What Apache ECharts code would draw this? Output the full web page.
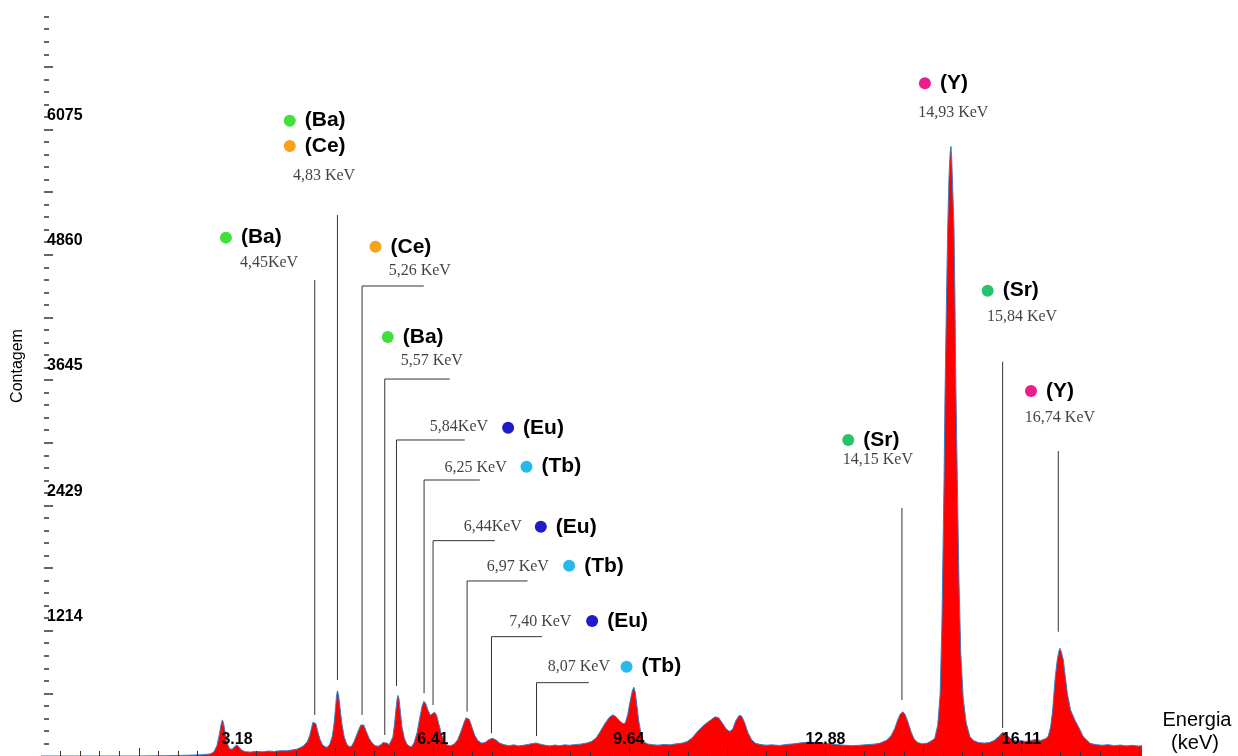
<!DOCTYPE html>
<html>
<head>
<meta charset="utf-8">
<script src="https://cdn.jsdelivr.net/npm/echarts@6/dist/echarts.min.js"></script>
<style>
html,body{margin:0;padding:0;background:#fff;}
#chart{width:1238px;height:756px;}
</style>
</head>
<body>
<div id="chart"></div>
<script>
// ---- Spectrum (energy in keV, counts) ----
const energyKeV = [
-0.05,0.5,1.0,1.5,2.0,2.4,2.6,2.74,2.80,2.85,2.89,2.92,2.94,2.96,2.99,3.02,3.06,3.10,3.14,3.18,3.21,3.26,3.32,3.40,
3.50,3.60,3.70,3.80,3.90,4.00,4.08,4.16,4.22,4.28,4.34,4.38,4.41,4.43,4.455,4.48,4.51,4.55,4.59,4.63,
4.67,4.71,4.75,4.78,4.805,4.82,4.836,4.855,4.88,4.91,4.95,4.99,5.03,5.07,
5.11,5.15,5.19,5.22,5.24,5.27,5.31,5.36,5.41,5.46,5.51,5.55,5.59,5.616,5.65,5.69,
5.72,5.75,5.775,5.80,5.82,5.835,5.85,5.875,5.90,5.94,5.98,6.02,6.06,
6.10,6.15,6.19,6.23,6.26,6.29,6.33,6.37,6.40,6.435,6.47,6.51,6.55,6.60,6.65,6.70,
6.76,6.82,6.87,6.92,6.955,6.98,7.01,7.05,7.10,7.15,7.21,7.27,7.33,7.39,7.45,7.51,7.58,7.66,
7.74,7.82,7.90,7.98,8.05,8.11,8.18,8.26,8.34,8.42,8.50,8.58,8.66,8.74,
8.84,8.94,9.02,9.10,9.17,9.24,9.31,9.37,9.42,9.48,9.54,9.58,9.62,9.66,9.695,9.72,9.745,9.77,9.80,9.84,9.88,9.94,
10.02,10.12,10.22,10.32,10.42,10.52,10.60,10.68,10.76,10.84,10.92,10.99,11.06,11.12,11.18,11.24,11.30,11.35,
11.40,11.46,11.50,11.55,11.60,11.66,11.72,11.80,11.90,
12.0,12.12,12.24,12.36,12.48,12.60,12.72,12.84,12.96,13.08,13.20,13.32,13.44,13.56,13.68,13.78,
13.88,13.96,14.02,14.07,14.11,14.155,14.19,14.24,14.29,14.34,14.40,14.48,14.56,14.62,
14.68,14.73,14.77,14.80,14.82,14.835,14.85,14.875,14.895,14.915,14.935,14.948,14.96,14.98,14.998,15.013,15.031,15.053,
15.08,15.11,15.15,15.20,15.26,15.32,15.40,15.50,15.58,15.66,15.74,15.80,15.86,15.94,16.02,16.10,16.18,16.26,16.34,
16.42,16.50,16.55,16.59,16.625,16.646,16.668,16.70,16.725,16.745,16.77,16.80,16.833,16.866,16.92,16.99,17.05,17.13,
17.24,17.34,17.44,17.54,17.64,17.74,17.84,17.94,18.04,18.097
];
const counts = [
0,0,0,0,3,8,12,20,40,100,210,310,350,315,210,120,70,65,90,108,90,55,42,38,
45,40,48,44,52,50,58,65,80,100,140,200,275,325,342,315,240,160,110,90,
85,115,190,310,470,580,633,590,460,310,180,115,90,95,
140,200,260,300,315,300,240,170,125,100,95,110,130,140,125,110,
120,185,300,450,555,587,555,420,280,170,115,95,90,
130,230,360,480,531,510,440,395,412,425,395,305,210,140,105,100,
115,160,235,320,370,378,355,285,200,150,125,130,158,172,155,125,110,100,
108,98,104,112,122,126,115,104,98,106,100,108,104,110,
115,125,140,175,240,310,370,398,385,345,315,318,400,530,630,666,620,500,350,210,140,118,
110,105,112,108,118,125,140,175,230,280,320,350,380,370,320,265,238,260,
340,395,385,320,230,160,125,112,105,
108,102,112,118,128,135,130,124,118,110,104,100,104,110,115,125,
150,195,265,350,405,428,405,330,235,165,130,118,125,145,
170,300,600,1300,2100,2700,3500,4450,5130,5600,5850,5910,5800,5450,5130,4490,3520,2680,
1700,1000,560,320,190,150,130,125,130,150,190,230,205,165,145,150,140,150,160,
150,165,190,280,446,608,769,931,1010,1044,1005,931,769,608,446,349,284,187,
123,110,104,110,100,106,98,104,96,100
];

// ---- Axis tick labels ----
const xTickLabels = [3.18, 6.41, 9.64, 12.88, 16.11];
const yTickLabels = [1214, 2429, 3645, 4860, 6075];

// ---- Peak leader lines (keV / counts) ----
const lineKeV          = [4.462, 4.836, 5.242, 5.616, 5.809, 6.264, 6.412, 6.973, 7.375, 8.117, 14.140, 15.800, 16.717];
const lineTopCounts    = [4615, 5245, 4557, 3655, 3064, 2676, 2088, 1697, 1157, 711, 2405, 3823, 2957];
const lineBottomCounts = [398, 737, 398, 204, 679, 608, 494, 430, 220, 194, 543, 271, 1205];
const lineHookKeV      = [null, null, 6.259, 6.687, 6.935, 7.182, 7.429, 7.969, 8.209, 8.979, null, null, null];

// ---- Element markers ----
const elementNames  = ['Ba', 'Ba', 'Ce', 'Ce', 'Ba', 'Eu', 'Tb', 'Eu', 'Tb', 'Eu', 'Tb', 'Sr', 'Y', 'Sr', 'Y'];
const elementKeV    = [2.998, 4.050, 4.050, 5.463, 5.665, 7.649, 7.952, 8.188, 8.655, 9.034, 9.601, 13.255, 14.519, 15.553, 16.267];
const elementCounts = [5026, 6160, 5915, 4938, 4063, 3183, 2805, 2223, 1845, 1309, 866, 3064, 6523, 4512, 3539];
const elementColors = {Ba: '#3fe03a', Ce: '#f7a21b', Eu: '#1c1cc8', Tb: '#27b9ec', Sr: '#25c46a', Y: '#ec1c8c'};

// ---- Energy labels ----
const energyLabels      = ['4,45KeV', '4,83 KeV', '5,26 KeV', '5,57 KeV', '5,84KeV', '6,25 KeV', '6,44KeV', '6,97 KeV', '7,40 KeV', '8,07 KeV', '14,15 KeV', '14,93 KeV', '15,84 KeV', '16,74 KeV'];
const energyLabelKeV    = [3.708, 4.615, 6.193, 6.391, 6.839, 7.113, 7.397, 7.809, 8.180, 8.815, 13.744, 14.986, 16.119, 16.745];
const energyLabelCounts = [4785, 5621, 4704, 3830, 3190, 2790, 2220, 1839, 1302, 866, 2870, 6239, 4257, 3277];

// ---- derived tick positions ----
const xStep = (xTickLabels[xTickLabels.length - 1] - xTickLabels[0]) / (xTickLabels.length - 1);
const xMinorTicks = [], xMajorTicks = [];
for (let k = -9; k <= 58; k++) {
  const v = +(xTickLabels[0] + k * xStep / 10).toFixed(4);
  if (v > 0 && v < 18.09) { xMinorTicks.push(v); if (k % 5 === 0) xMajorTicks.push(v); }
}
const yStep = 1215;
const yMinorTicks = [], yMajorTicks = [];
for (let k = 1; k <= 59; k++) { yMinorTicks.push(k * yStep / 10); if (k % 5 === 0) yMajorTicks.push(k * yStep / 10); }

const X_MIN = -0.05, X_MAX = 18.097, Y_MIN = 0, Y_MAX = 7330;
const sans = "Arial, 'Liberation Sans', sans-serif";
const serif = "'Times New Roman', 'Liberation Serif', serif";

const chart = echarts.init(document.getElementById('chart'), null, {renderer: 'canvas'});
chart.setOption({
  animation: false,
  backgroundColor: '#ffffff',
  grid: {left: 41, right: 96, top: 0, bottom: 0, containLabel: false},
  xAxis: [{
    type: 'value', min: X_MIN, max: X_MAX, z: 10,
    axisLine: {show: false}, splitLine: {show: false},
    axisTick: {show: true, inside: true, length: 5, customValues: xMinorTicks, lineStyle: {color: '#333', width: 1}},
    axisLabel: {inside: true, margin: 8, customValues: xTickLabels, formatter: v => v.toFixed(2),
      fontFamily: sans, fontWeight: 'bold', fontSize: 16, color: '#000'}
  }, {
    type: 'value', min: X_MIN, max: X_MAX, position: 'bottom', z: 10,
    axisLine: {show: false}, splitLine: {show: false}, axisLabel: {show: false},
    axisTick: {show: true, inside: true, length: 8, customValues: xMajorTicks, lineStyle: {color: '#333', width: 1}}
  }],
  yAxis: [{
    type: 'value', min: Y_MIN, max: Y_MAX, z: 10,
    axisLine: {show: false}, splitLine: {show: false},
    axisTick: {show: true, inside: true, length: 5, customValues: yMinorTicks, lineStyle: {color: '#333', width: 1.5}},
    axisLabel: {inside: true, margin: 6, customValues: yTickLabels, formatter: v => String(Math.round(v)),
      verticalAlign: 'bottom', padding: [0, 0, 6, 0],
      fontFamily: sans, fontWeight: 'bold', fontSize: 16, color: '#000'}
  }, {
    type: 'value', min: Y_MIN, max: Y_MAX, position: 'left', z: 10,
    axisLine: {show: false}, splitLine: {show: false}, axisLabel: {show: false},
    axisTick: {show: true, inside: true, length: 9, customValues: yMajorTicks, lineStyle: {color: '#333', width: 1.5}}
  }],
  series: [{
    type: 'line', xAxisIndex: 0, yAxisIndex: 0, z: 2,
    data: energyKeV.map((e, i) => [e, counts[i]]),
    symbol: 'none', showSymbol: false, sampling: null, smooth: false,
    lineStyle: {color: '#3b7dc4', width: 1},
    areaStyle: {color: '#ff0000', opacity: 1}
  }, {
    type: 'lines', coordinateSystem: 'cartesian2d', xAxisIndex: 0, yAxisIndex: 0, polyline: true, z: 3,
    data: lineKeV.map((e, i) => ({
      coords: lineHookKeV[i] === null
        ? [[e, lineBottomCounts[i]], [e, lineTopCounts[i]]]
        : [[e, lineBottomCounts[i]], [e, lineTopCounts[i]], [lineHookKeV[i], lineTopCounts[i]]]
    })),
    lineStyle: {color: '#333333', width: 1, opacity: 1}
  }, {
    type: 'scatter', xAxisIndex: 0, yAxisIndex: 0, z: 4, symbol: 'circle', symbolSize: 12,
    data: elementNames.map((n, i) => ({value: [elementKeV[i], elementCounts[i]], name: n, itemStyle: {color: elementColors[n], opacity: 1}})),
    label: {show: true, position: 'right', distance: 9, formatter: p => '(' + p.name + ')',
      fontFamily: sans, fontWeight: 'bold', fontSize: 21, color: '#000'}
  }, {
    type: 'scatter', xAxisIndex: 0, yAxisIndex: 0, z: 4, symbol: 'circle', symbolSize: 1,
    itemStyle: {color: 'rgba(0,0,0,0)'},
    data: energyLabels.map((t, i) => ({value: [energyLabelKeV[i], energyLabelCounts[i]], name: t})),
    label: {show: true, position: 'inside', formatter: p => p.name,
      fontFamily: serif, fontSize: 16, color: '#111'}
  }],
  graphic: [
    {type: 'text', x: 18, y: 366, rotation: Math.PI / 2,
      style: {text: 'Contagem', fontFamily: sans, fontSize: 16, fill: '#000', align: 'center', verticalAlign: 'middle'}},
    {type: 'text', x: 1197, y: 720,
      style: {text: 'Energia', fontFamily: sans, fontSize: 20, fill: '#000', align: 'center', verticalAlign: 'middle'}},
    {type: 'text', x: 1195, y: 743,
      style: {text: '(keV)', fontFamily: sans, fontSize: 20, fill: '#000', align: 'center', verticalAlign: 'middle'}}
  ]
});
</script>
</body>
</html>
